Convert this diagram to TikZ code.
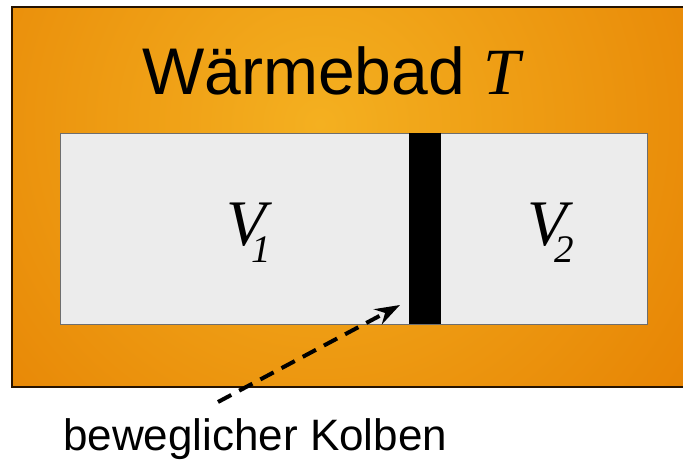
\documentclass[tikz,border=0pt]{standalone}
\usepackage{fontspec}
\usetikzlibrary{arrows.meta}
\setmainfont{Liberation Serif}
\newfontfamily\arialf{Liberation Sans}
\definecolor{bathout}{RGB}{229,126,0}
\definecolor{bathin}{RGB}{244,176,32}
\definecolor{boxfill}{RGB}{236,236,236}
\definecolor{boxline}{RGB}{110,110,110}
\tikzset{
  bath/.style={draw=black!85!orange, line width=1.2pt},
  chamber/.style={draw=boxline, fill=boxfill, line width=1pt},
  piston/.style={fill=black, draw=none},
  lbl/.style={inner sep=0pt, anchor=base west},
}
\begin{document}
\begin{tikzpicture}[x=1pt,y=1pt]
\useasboundingbox (0,0) rectangle (683,459);
% heat bath
\begin{scope}
\clip (12,72) rectangle (690,452);
\fill[bathout] (12,72) rectangle (690,452);
\shade[inner color=bathin, outer color=bathout] (320,335) circle (520);
\end{scope}
\draw[bath] (12,72) rectangle (690,452);
\node[lbl] (title) at (142,364) {\arialf\fontsize{66}{80}\selectfont Wärmebad {\rmfamily\itshape T}};
% chamber
\draw[chamber] (60,135) rectangle (647,326);
\node[piston, minimum width=32pt, minimum height=191pt, inner sep=0pt, anchor=south west] (kolben) at (409,135) {};
\node[lbl] (v1) at (226,214) {\fontsize{65}{78}\selectfont\itshape V\kern-14pt\raisebox{-17pt}{\fontsize{39}{47}\selectfont 1}};
\node[lbl] (v2) at (527,214) {\fontsize{65}{78}\selectfont\itshape V\kern-12pt\raisebox{-17pt}{\fontsize{39}{47}\selectfont 2}};
% label and arrow
\node[lbl] (lab) at (63,9) {\arialf\fontsize{44}{53}\selectfont beweglicher Kolben};
\coordinate (astart) at (218,57);
\coordinate (aend) at (400,154);
\draw[dashed, dash pattern=on 15pt off 9pt, line width=4pt, -{Stealth[length=25pt,width=17pt]}] (astart) -- (aend);
\end{tikzpicture}
\end{document}
